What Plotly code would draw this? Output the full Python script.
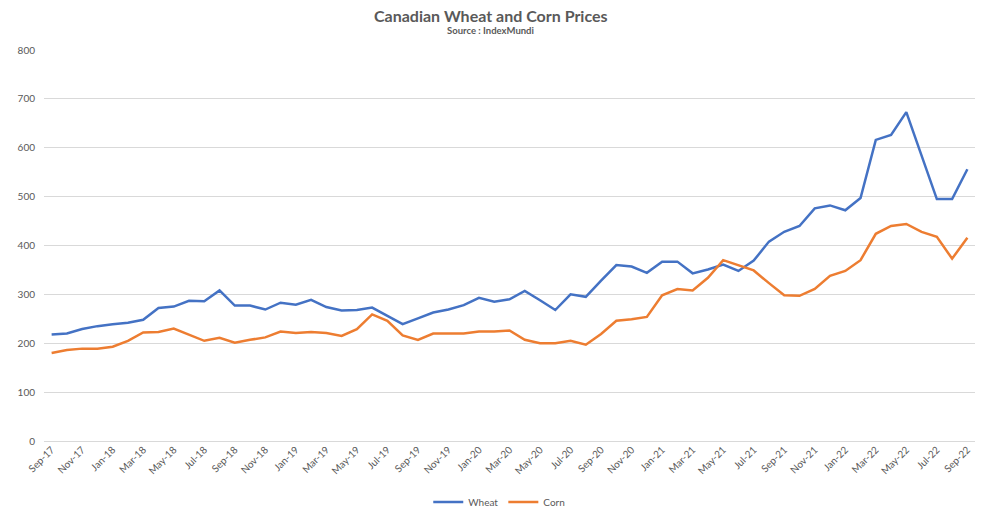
import plotly.graph_objects as go
import pandas as pd

months = pd.date_range("2017-09-01", "2022-09-01", freq="MS").strftime("%b-%y").tolist()

wheat = [218, 220, 229, 235, 239, 242, 248, 272, 275, 287, 286, 308, 277, 277, 269, 283, 279, 289, 274, 267,
         268, 273, 256, 239, 251, 263, 269, 278, 293, 285, 290, 307, 288, 268, 300, 295, 328, 360, 357, 344,
         367, 367, 343, 351, 361, 348, 369, 408, 428, 440, 476, 482, 472, 497, 616, 626, 673, 584, 495, 495, 556]

corn = [180, 186, 189, 189, 193, 205, 222, 223, 230, 217, 205, 211, 201, 207, 212, 224, 221, 223, 221, 215,
        229, 259, 246, 216, 207, 220, 220, 220, 224, 224, 226, 207, 200, 200, 205, 197, 219, 246, 249, 254,
        298, 311, 308, 334, 370, 359, 349, 323, 298, 297, 311, 338, 348, 370, 424, 440, 444, 428, 418, 373, 416]

tick_labels = months[::2]

FONT = "Lato"
GRAY = "#595959"

fig = go.Figure()
fig.add_trace(go.Scatter(x=months, y=wheat, mode="lines", name="Wheat",
                         line=dict(color="#4472C4", width=2.5)))
fig.add_trace(go.Scatter(x=months, y=corn, mode="lines", name="Corn",
                         line=dict(color="#ED7D31", width=2.5)))

fig.update_layout(
    width=989, height=510,
    margin=dict(l=44, r=14, t=50, b=69, autoexpand=False),
    paper_bgcolor="white", plot_bgcolor="white",
    font=dict(family=FONT, color=GRAY, size=10),
    showlegend=True,
    legend=dict(orientation="h", x=0.489, xanchor="center", y=-0.156, yanchor="middle",
                font=dict(size=10, color=GRAY), tracegroupgap=0),
    annotations=[
        dict(text="<b>Canadian Wheat and Corn Prices</b>", x=0.48, y=1.0895, xref="paper", yref="paper",
             xanchor="center", yanchor="middle", showarrow=False, font=dict(size=16, color=GRAY, family=FONT)),
        dict(text="<b>Source : IndexMundi</b>", x=0.48, y=1.051, xref="paper", yref="paper",
             xanchor="center", yanchor="middle", showarrow=False, font=dict(size=9.5, color=GRAY, family=FONT)),
    ],
)

fig.update_xaxes(type="category", range=[-0.5, 60.5], tickmode="array", tickvals=tick_labels,
                 ticktext=tick_labels, tickangle=-45, showgrid=False, showline=False, ticks="",
                 automargin=False, tickfont=dict(size=10, color=GRAY))
fig.update_yaxes(range=[0, 800], dtick=100, showgrid=True, gridcolor="#d9d9d9", gridwidth=1,
                 zeroline=True, zerolinecolor="#d9d9d9", zerolinewidth=1, showline=False, ticks="",
                 automargin=False, ticklabelstandoff=8, tickfont=dict(size=10, color=GRAY))

fig.write_html("out.html", config={"displayModeBar": False},
               post_script="document.body.style.margin='0';")
